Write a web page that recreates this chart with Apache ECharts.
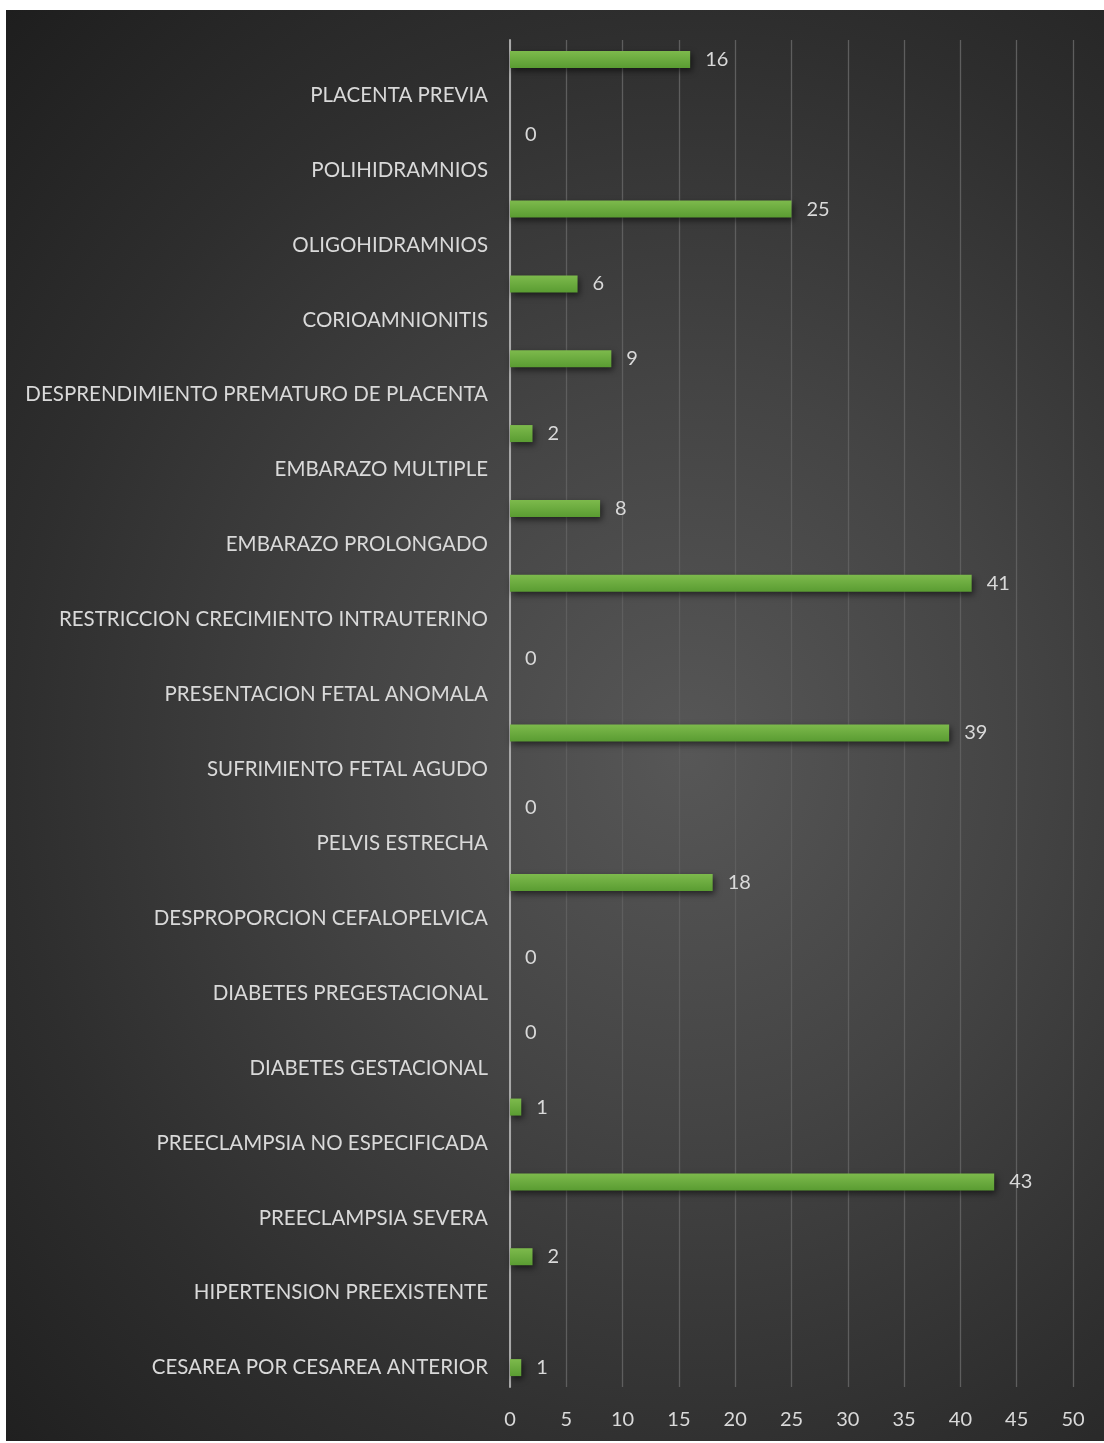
<!DOCTYPE html>
<html>
<head>
<meta charset="utf-8">
<script src="https://cdn.jsdelivr.net/npm/echarts@6/dist/echarts.min.js"></script>
<style>
html,body{margin:0;padding:0;background:#ffffff;}
#chart{position:absolute;left:6px;top:10px;width:1098px;height:1431px;
background:radial-gradient(ellipse farthest-corner at 62% 52%, #575757 0%, #444444 35%, #2e2e2e 70%, #1e1e1e 100%);}
</style>
</head>
<body>
<div id="chart"></div>
<script>
// Categories listed bottom -> top (as drawn on the category axis)
var categories = [
  "CESAREA POR CESAREA ANTERIOR",
  "HIPERTENSION PREEXISTENTE",
  "PREECLAMPSIA SEVERA",
  "PREECLAMPSIA NO ESPECIFICADA",
  "DIABETES GESTACIONAL",
  "DIABETES PREGESTACIONAL",
  "DESPROPORCION CEFALOPELVICA",
  "PELVIS ESTRECHA",
  "SUFRIMIENTO FETAL AGUDO",
  "PRESENTACION FETAL ANOMALA",
  "RESTRICCION CRECIMIENTO INTRAUTERINO",
  "EMBARAZO PROLONGADO",
  "EMBARAZO MULTIPLE",
  "DESPRENDIMIENTO PREMATURO DE PLACENTA",
  "CORIOAMNIONITIS",
  "OLIGOHIDRAMNIOS",
  "POLIHIDRAMNIOS",
  "PLACENTA PREVIA"
];
// Bars drawn in the upper slot of each category band
var valuesUpper = [null, 2, 43, 1, 0, 0, 18, 0, 39, 0, 41, 8, 2, 9, 6, 25, 0, 16];
// Bar drawn in the lower slot of the band
var valuesLower = [1, null, null, null, null, null, null, null, null, null, null, null, null, null, null, null, null, null];
var xTicks = [0, 5, 10, 15, 20, 25, 30, 35, 40, 45, 50];

var FONT = "Lato, 'Open Sans', sans-serif";
var TXT = "#d9d9d9";

var barStyle = {
  color: {type:'linear', x:0, y:0, x2:0, y2:1, colorStops:[
    {offset:0, color:'#7dba4c'}, {offset:1, color:'#5a9c32'}]},
  shadowColor: 'rgba(0,0,0,0.55)',
  shadowBlur: 6,
  shadowOffsetX: 2,
  shadowOffsetY: 3
};
var lbl = {show:true, position:'right', distance:15, color:TXT, fontSize:20, fontFamily:FONT};

var chart = echarts.init(document.getElementById('chart'), null, {renderer:'canvas'});
chart.setOption({
  backgroundColor: 'transparent',
  animation: false,
  grid: {left:504, right:31, top:30, bottom:54, containLabel:false},
  xAxis: {
    type:'value', min:xTicks[0], max:xTicks[xTicks.length-1], interval:5,
    axisLine:{show:false}, axisTick:{show:false},
    axisLabel:{color:TXT, fontSize:20, fontFamily:FONT, margin:23},
    splitLine:{show:true, lineStyle:{color:'#5e5e5e', width:1.3}}
  },
  yAxis: {
    type:'category', data:categories,
    axisLine:{show:true, lineStyle:{color:'#a8a8a8', width:2}},
    axisTick:{show:false},
    axisLabel:{color:TXT, fontSize:20.5, fontFamily:FONT, margin:22, verticalAlign:'top', lineHeight:36, interval:0},
    splitLine:{show:false}
  },
  series: [
    {type:'bar', name:'upper', data:valuesUpper, barWidth:17, barGap:'112%', itemStyle:barStyle, label:lbl},
    {type:'bar', name:'lower', data:valuesLower, barWidth:17, barGap:'112%', itemStyle:barStyle, label:lbl}
  ]
});
</script>
</body>
</html>
